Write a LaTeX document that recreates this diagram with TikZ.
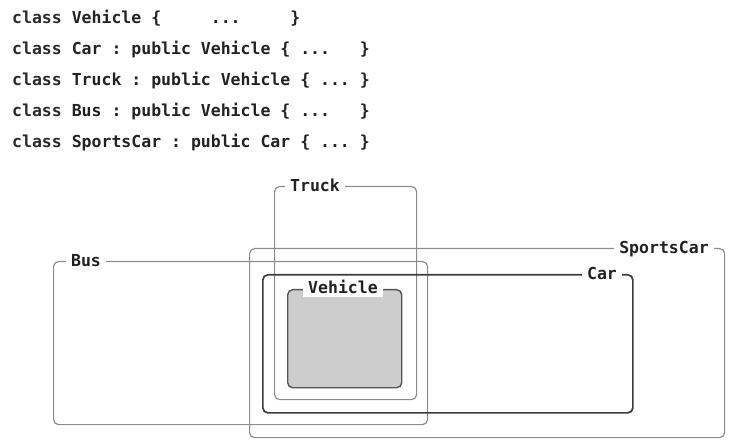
\documentclass[tikz,border=0pt]{standalone}
\usepackage{fontspec}
\setmonofont{DejaVu Sans Mono}
\definecolor{codeink}{HTML}{222222}
\definecolor{kwink}{HTML}{2A2A2A}
\definecolor{lightline}{HTML}{8C8C8C}
\definecolor{darkline}{HTML}{3C3C3C}
\definecolor{vehline}{HTML}{555555}
\definecolor{vehfill}{HTML}{CDCDCD}
\begin{document}
\begin{tikzpicture}[x=1bp,y=-1bp,
  codeline/.style={anchor=base west, inner sep=0pt, text=codeink,
    font=\ttfamily\bfseries\fontsize{16.5bp}{18bp}\selectfont},
  setbox/.style={draw=lightline, line width=1.2bp, rounded corners=5bp,
    anchor=north west, inner sep=0pt},
  boxlabel/.style={fill=white, text=codeink, inner xsep=5bp, inner ysep=2.5bp,
    text height=11.5bp, text depth=0bp,
    font=\ttfamily\bfseries\fontsize{16.5bp}{18bp}\selectfont}]
\useasboundingbox (0,0) rectangle (737,447);

% code
\node[codeline] (l1) at (12,24)  {\textcolor{kwink}{class}~Vehicle~\{~~~~~...~~~~~\}};
\node[codeline] (l2) at (12,55)  {\textcolor{kwink}{class}~Car~:~public~Vehicle~\{~...~~~\}};
\node[codeline] (l3) at (12,86)  {\textcolor{kwink}{class}~Truck~:~public~Vehicle~\{~...~\}};
\node[codeline] (l4) at (12,117) {\textcolor{kwink}{class}~Bus~:~public~Vehicle~\{~...~~~\}};
\node[codeline] (l5) at (12,148) {\textcolor{kwink}{class}~SportsCar~:~public~Car~\{~...~\}};

% set boxes
\node[setbox, minimum width=475bp, minimum height=189bp] (sports) at (249,248) {};
\node[setbox, minimum width=374bp, minimum height=163bp] (bus) at (53,261) {};
\node[setbox, minimum width=142bp, minimum height=213bp] (truck) at (274,186) {};
\node[setbox, draw=darkline, line width=1.7bp, minimum width=370bp, minimum height=138bp] (car) at (262,274) {};
\node[setbox, draw=vehline, fill=vehfill, line width=1.4bp, minimum width=114bp, minimum height=98bp] (vehicle) at (287,289) {};

% labels
\node[boxlabel] (truckl) at (315,186) {Truck};
\node[boxlabel] (busl) at (86,261) {Bus};
\node[boxlabel] (sportsl) at (664,248) {SportsCar};
\node[boxlabel] (carl) at (602,274) {Car};
\node[boxlabel, inner ysep=3.5bp] (vehiclel) at (343,288) {Vehicle};
\end{tikzpicture}
\end{document}
